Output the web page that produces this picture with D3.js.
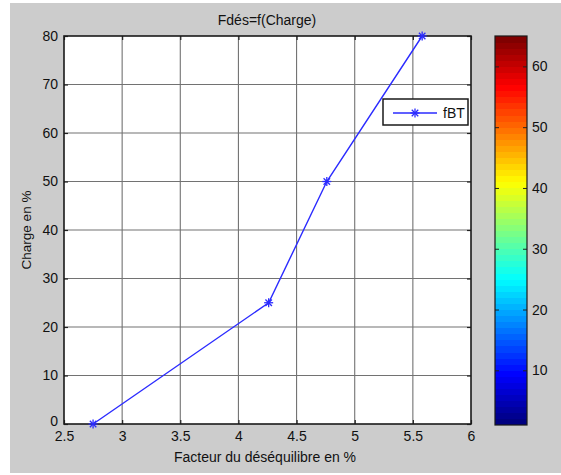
<!DOCTYPE html>
<html>
<head>
<meta charset="utf-8">
<script src="https://cdn.jsdelivr.net/npm/d3@7"></script>
<style>
  html, body { margin: 0; padding: 0; background: #ffffff; }
  svg { display: block; }
  text { font-family: "Liberation Sans", Arial, sans-serif; fill: #111; }
</style>
</head>
<body>
<svg id="chart" width="561" height="475"></svg>
<script>
// Series: imbalance factor (%) versus load (%)
const facteur = [2.75, 4.26, 4.76, 5.58];
const charge = [0, 25, 50, 80];
const seriesName = "fBT";

// Axis ticks
const xTicks = [2.5, 3, 3.5, 4, 4.5, 5, 5.5, 6];
const yTicks = [0, 10, 20, 30, 40, 50, 60, 70, 80];
const cbTicks = [10, 20, 30, 40, 50, 60];

// Colour bar: 64-step jet map over [1, 65]
const cbLevels = d3.range(1, 65);
const cbDomain = [1, 65];

const titleText = "Fdés=f(Charge)";
const xLabel = "Facteur du déséquilibre en %";
const yLabel = "Charge en %";

const svg = d3.select("#chart");

// figure background
svg.append("rect").attr("x", 10).attr("y", 3).attr("width", 551).attr("height", 470)
  .attr("fill", "#cccccc");

const plot = { left: 64, right: 471, top: 36, bottom: 424 };
const x = d3.scaleLinear().domain([2.5, 6]).range([plot.left, plot.right]);
const y = d3.scaleLinear().domain([0, 80]).range([plot.bottom, plot.top]);

svg.append("rect").attr("x", plot.left).attr("y", plot.top)
  .attr("width", plot.right - plot.left).attr("height", plot.bottom - plot.top)
  .attr("fill", "#ffffff");

// grid
const grid = svg.append("g").attr("stroke", "#727272").attr("stroke-width", 1.1);
grid.selectAll(".gx").data(xTicks.slice(1, -1)).join("line")
  .attr("x1", d => x(d)).attr("x2", d => x(d))
  .attr("y1", plot.top).attr("y2", plot.bottom);
grid.selectAll(".gy").data(yTicks.slice(1, -1)).join("line")
  .attr("y1", d => y(d)).attr("y2", d => y(d))
  .attr("x1", plot.left).attr("x2", plot.right);

// axes with inward ticks on all four sides
const tickLen = 4;
svg.append("g").attr("transform", `translate(0,${plot.bottom})`)
  .call(d3.axisBottom(x).tickValues(xTicks).tickFormat(d3.format("")).tickSizeInner(-tickLen).tickSizeOuter(0).tickPadding(8))
  .call(g => g.select(".domain").remove())
  .call(g => g.selectAll("text").attr("font-size", 14).attr("dy", "0.62em"));
svg.append("g").attr("transform", `translate(0,${plot.top})`)
  .call(d3.axisTop(x).tickValues(xTicks).tickFormat("").tickSizeInner(-tickLen).tickSizeOuter(0))
  .call(g => g.select(".domain").remove());
svg.append("g").attr("transform", `translate(${plot.left},0)`)
  .call(d3.axisLeft(y).tickValues(yTicks).tickFormat(d3.format("")).tickSizeInner(-tickLen).tickSizeOuter(0).tickPadding(6))
  .call(g => g.select(".domain").remove())
  .call(g => g.selectAll("text").attr("font-size", 14))
  .call(g => g.selectAll("text").filter(d => d === 0).attr("dy", "0.12em"));
svg.append("g").attr("transform", `translate(${plot.right},0)`)
  .call(d3.axisRight(y).tickValues(yTicks).tickFormat("").tickSizeInner(-tickLen).tickSizeOuter(0))
  .call(g => g.select(".domain").remove());
svg.selectAll(".tick line").attr("stroke", "#222").attr("stroke-width", 1.2);

svg.append("rect").attr("x", plot.left).attr("y", plot.top)
  .attr("width", plot.right - plot.left).attr("height", plot.bottom - plot.top)
  .attr("fill", "none").attr("stroke", "#1a1a1a").attr("stroke-width", 1.6);

// series line
const pts = facteur.map((f, i) => [f, charge[i]]);
svg.append("path").datum(pts)
  .attr("fill", "none").attr("stroke", "#2b2bff").attr("stroke-width", 1.4)
  .attr("d", d3.line().x(d => x(d[0])).y(d => y(d[1])));

function star(g, cx, cy, r) {
  const s = g.append("g").attr("stroke", "#2b2bff").attr("stroke-width", 1.3);
  const d = r * 0.72;
  s.append("line").attr("x1", cx - r).attr("x2", cx + r).attr("y1", cy).attr("y2", cy);
  s.append("line").attr("x1", cx).attr("x2", cx).attr("y1", cy - r).attr("y2", cy + r);
  s.append("line").attr("x1", cx - d).attr("x2", cx + d).attr("y1", cy - d).attr("y2", cy + d);
  s.append("line").attr("x1", cx - d).attr("x2", cx + d).attr("y1", cy + d).attr("y2", cy - d);
}
pts.forEach(p => star(svg, x(p[0]), y(p[1]), 4.5));

// legend
const lg = svg.append("g");
lg.append("rect").attr("x", 383).attr("y", 99).attr("width", 85).attr("height", 26)
  .attr("fill", "#ffffff").attr("stroke", "#1a1a1a").attr("stroke-width", 1.5);
lg.append("line").attr("x1", 393).attr("x2", 437).attr("y1", 113).attr("y2", 113)
  .attr("stroke", "#2b2bff").attr("stroke-width", 1.4);
star(lg, 415, 113, 4.5);
lg.append("text").attr("x", 443).attr("y", 118).attr("font-size", 14).text(seriesName);

// titles
svg.append("text").attr("x", 267).attr("y", 25).attr("text-anchor", "middle")
  .attr("font-size", 14).text(titleText);
svg.append("text").attr("x", 265).attr("y", 462).attr("text-anchor", "middle")
  .attr("font-size", 14).text(xLabel);
svg.append("text").attr("transform", `translate(31,${(plot.top + plot.bottom) / 2}) rotate(-90)`)
  .attr("text-anchor", "middle").attr("font-size", 13.5).text(yLabel);

// colour bar
function jet(t) {
  const c = v => Math.round(255 * Math.max(0, Math.min(1, v)));
  return `rgb(${c(1.5 - Math.abs(4 * t - 3))},${c(1.5 - Math.abs(4 * t - 2))},${c(1.5 - Math.abs(4 * t - 1))})`;
}
const cb = { left: 495, right: 527 };
const yc = d3.scaleLinear().domain(cbDomain).range([plot.bottom + 1, plot.top]);
svg.append("g").attr("shape-rendering", "crispEdges").selectAll("rect").data(cbLevels).join("rect")
  .attr("x", cb.left).attr("width", cb.right - cb.left)
  .attr("y", d => Math.floor(yc(d + 1))).attr("height", d => Math.ceil(yc(d)) - Math.floor(yc(d + 1)))
  .attr("fill", d => jet((d - 1) / 63));
svg.append("g").attr("transform", `translate(${cb.right},0)`)
  .call(d3.axisRight(yc).tickValues(cbTicks).tickSizeInner(-tickLen).tickSizeOuter(0).tickPadding(5))
  .call(g => g.select(".domain").remove())
  .call(g => g.selectAll("text").attr("font-size", 14))
  .call(g => g.selectAll("line").attr("stroke", "#222"));
svg.append("g").attr("transform", `translate(${cb.left},0)`)
  .call(d3.axisLeft(yc).tickValues(cbTicks).tickFormat("").tickSizeInner(-tickLen).tickSizeOuter(0))
  .call(g => g.select(".domain").remove())
  .call(g => g.selectAll("line").attr("stroke", "#222"));
svg.append("rect").attr("x", cb.left).attr("y", plot.top)
  .attr("width", cb.right - cb.left).attr("height", plot.bottom + 1 - plot.top)
  .attr("fill", "none").attr("stroke", "#1a1a1a").attr("stroke-width", 1.2);
</script>
</body>
</html>
